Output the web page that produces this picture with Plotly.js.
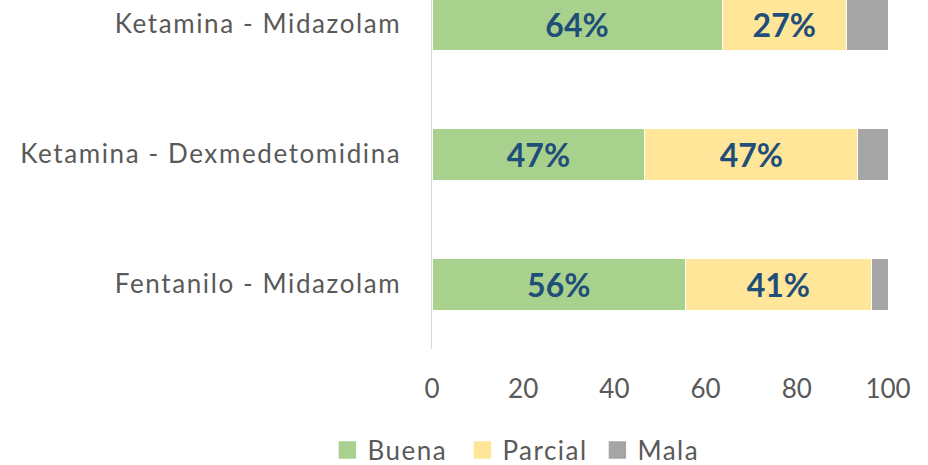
<!DOCTYPE html>
<html><head><meta charset="utf-8">
<script src="https://cdn.plot.ly/plotly-3.0.1.min.js"></script>
<style>
html,body{margin:0;padding:0;background:#fff}#c{width:928px;height:465px}
#c .ytick text{letter-spacing:1.6px}
#c .legendtext{letter-spacing:1.5px}
</style>
</head><body><div id="c"></div>
<script>
const categories = ["Fentanilo - Midazolam", "Ketamina - Dexmedetomidina", "Ketamina - Midazolam"];
const buena = [55.6, 46.7, 63.6];
const parcial = [40.7, 46.7, 27.3];
const mala = [3.7, 6.6, 9.1];
const xTicks = [0, 20, 40, 60, 80, 100];

function tr(name, vals, color, labels) {
  return {
    type: 'bar', orientation: 'h', name: name, y: categories, x: vals,
    marker: {color: color, line: {color: '#ffffff', width: 1}},
    width: 0.4,
    text: labels ? vals.map(v => Math.round(v) + '%') : null,
    textposition: labels ? 'inside' : 'none',
    insidetextanchor: 'middle',
    textfont: {family: 'Lato, sans-serif', size: 32, color: '#1F4E79', weight: 'bold'},
    hoverinfo: 'none'
  };
}
const data = [
  tr('Buena', buena, '#A9D18E', true),
  tr('Parcial', parcial, '#FFE699', true),
  tr('Mala', mala, '#A5A5A5', false)
];
const layout = {
  width: 928, height: 465, barmode: 'stack',
  margin: {l: 432, r: 40, t: 0, b: 116},
  paper_bgcolor: '#fff', plot_bgcolor: '#fff',
  font: {family: 'Lato, sans-serif', size: 26, color: '#595959'},
  xaxis: {range: [0, 100], tickvals: xTicks, ticktext: xTicks.map(String), showgrid: false, zeroline: false, showline: false, ticks: '', ticklabelstandoff: 22, tickfont: {size: 26, color: '#595959'}, fixedrange: true},
  yaxis: {range: [-0.5, 2.185], showgrid: false, zeroline: false, showline: true, linecolor: '#D9D9D9', linewidth: 1.5, ticks: '', ticklabelstandoff: 24, tickfont: {size: 26, color: '#595959'}},
  showlegend: true,
  legend: {orientation: 'h', xref: 'container', yref: 'container', x: 0.571, xanchor: 'center', y: 0.032, yanchor: 'middle', font: {size: 26, color: '#595959'}, traceorder: 'normal', itemwidth: 30, entrywidth: 90, entrywidthmode: 'pixels'}
};
Plotly.newPlot('c', data, layout, {displayModeBar: false, staticPlot: true}).then(function (gd) {
  gd.querySelectorAll('.legendpoints path').forEach(function (p) {
    var t = p.getAttribute('transform') || '';
    p.setAttribute('transform', t + ' scale(1.45)');
    p.style.strokeWidth = '0';
  });
});
</script></body></html>
